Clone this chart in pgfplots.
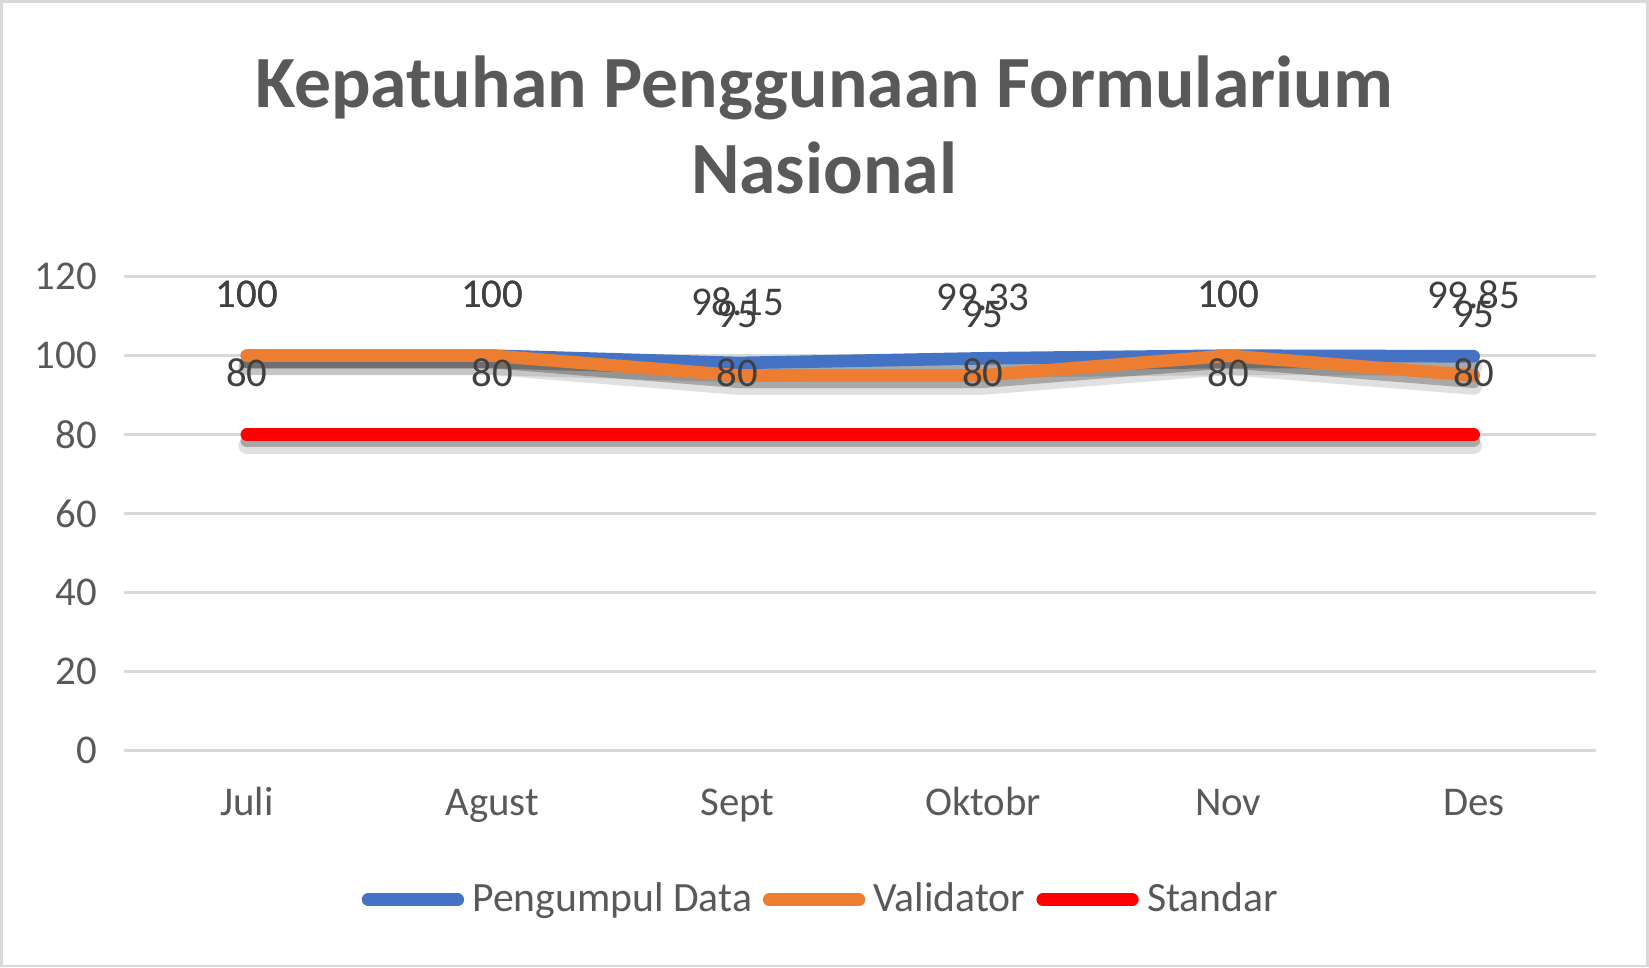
\documentclass[border=0pt]{standalone}
\usepackage{pgfplots}
\pgfplotsset{compat=1.18}
\usepackage{fontspec}
\setmainfont{Carlito}
\definecolor{txt}{HTML}{595959}
\definecolor{lbl}{HTML}{404040}
\definecolor{grd}{HTML}{D9D9D9}
\definecolor{cblue}{HTML}{4472C4}
\definecolor{corange}{HTML}{ED7D31}
\definecolor{cred}{HTML}{FF0000}
\begin{document}
\begin{tikzpicture}
\useasboundingbox (0bp,0bp) rectangle (391.75bp,229.75bp);
\draw[grd, line width=0.6bp] (0.3bp,0.3bp) rectangle (391.45bp,229.45bp);
\node[anchor=base, font=\fontsize{17.5bp}{20bp}\selectfont\bfseries, text=txt] at (195.75bp,204.25bp) {Kepatuhan Penggunaan Formularium};
\node[anchor=base, font=\fontsize{17.5bp}{20bp}\selectfont\bfseries, text=txt] at (195.75bp,183.75bp) {Nasional};
\begin{axis}[
  at={(29.5bp,51.5bp)}, anchor=south west,
  scale only axis, width=349.75bp, height=112.5bp,
  xmin=-0.5, xmax=5.5, ymin=0, ymax=120,
  clip=false,
  /pgf/number format/assume math mode=true,
  xtick={0,1,2,3,4,5},
  xticklabels={Juli,Agust,Sept,Oktobr,Nov,Des},
  ytick={0,20,40,60,80,100,120},
  ymajorgrids, grid style={grd, line width=0.6bp},
  axis line style={draw=none},
  tick style={draw=none},
  tick label style={font=\fontsize{9.7bp}{11bp}\selectfont, text=txt},
  xticklabel style={anchor=base, yshift=-15.5bp, inner sep=0pt},
  yticklabel style={anchor=east, xshift=-6.25bp, inner sep=0pt},
  every node near coord/.append style={font=\fontsize{9.7bp}{11bp}\selectfont, text=lbl, inner sep=0pt, yshift=9.8bp},
  legend style={at={(0.5,0)}, anchor=center, xshift=-8.6bp, yshift=-35.5bp, draw=none, fill=none,
    font=\fontsize{9.9bp}{11bp}\selectfont, text=txt, inner sep=0pt,
    /tikz/every even column/.append style={column sep=0.6bp}},
  legend columns=-1,
  legend image code/.code={\draw[#1, line width=3bp, line cap=round] (0bp,0bp) -- (21.3bp,0bp);},
]
% shadows
\addplot[forget plot, black, opacity=0.12, line width=4bp, line cap=round, line join=round, yshift=-2.6bp] coordinates {(0,100) (1,100) (2,98.15) (3,99.33) (4,100) (5,99.85)};
\addplot[forget plot, black, opacity=0.12, line width=4bp, line cap=round, line join=round, yshift=-2.6bp] coordinates {(0,100) (1,100) (2,95) (3,95) (4,100) (5,95)};
\addplot[forget plot, black, opacity=0.12, line width=4bp, line cap=round, line join=round, yshift=-2.6bp] coordinates {(0,80) (1,80) (2,80) (3,80) (4,80) (5,80)};
\addplot[forget plot, black, opacity=0.25, line width=3bp, line cap=round, line join=round, yshift=-1.5bp] coordinates {(0,100) (1,100) (2,98.15) (3,99.33) (4,100) (5,99.85)};
\addplot[forget plot, black, opacity=0.25, line width=3bp, line cap=round, line join=round, yshift=-1.5bp] coordinates {(0,100) (1,100) (2,95) (3,95) (4,100) (5,95)};
\addplot[forget plot, black, opacity=0.25, line width=3bp, line cap=round, line join=round, yshift=-1.5bp] coordinates {(0,80) (1,80) (2,80) (3,80) (4,80) (5,80)};
% series
\addplot[cblue, line width=3bp, line cap=round, line join=round, nodes near coords] coordinates {(0,100) (1,100) (2,98.15) (3,99.33) (4,100) (5,99.85)};
\addlegendentry{Pengumpul Data}
\addplot[corange, line width=3bp, line cap=round, line join=round, nodes near coords] coordinates {(0,100) (1,100) (2,95) (3,95) (4,100) (5,95)};
\addlegendentry{Validator}
\addplot[cred, line width=3bp, line cap=round, line join=round, nodes near coords] coordinates {(0,80) (1,80) (2,80) (3,80) (4,80) (5,80)};
\addlegendentry{Standar}
\end{axis}
\end{tikzpicture}
\end{document}
